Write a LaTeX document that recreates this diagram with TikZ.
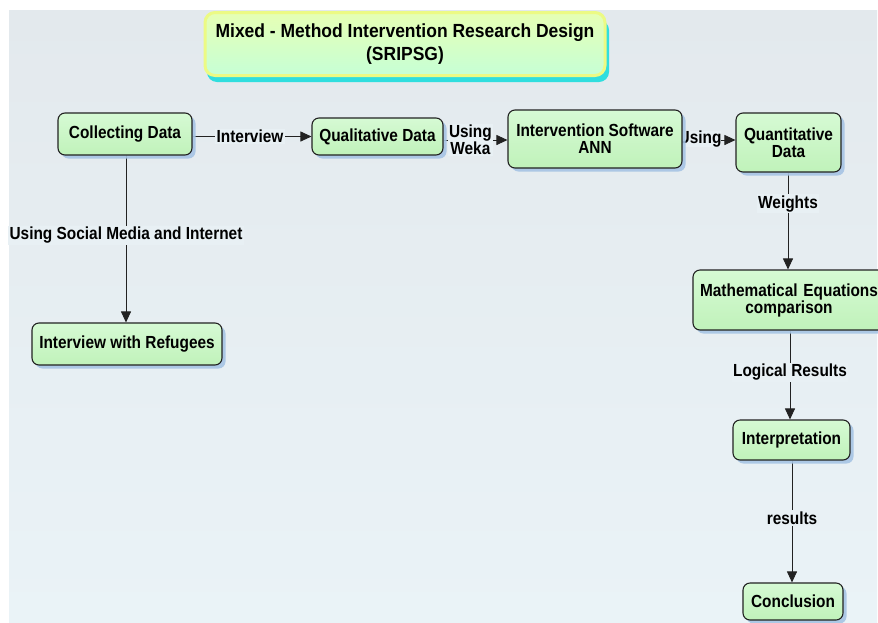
\documentclass[tikz,border=0pt]{standalone}
\usepackage{fontspec}
\setmainfont{Liberation Sans}
\newfontfamily\nodefont{Liberation Sans Bold}[FakeStretch=0.88]
\newfontfamily\titlefont{Liberation Sans Bold}[FakeStretch=0.92]
\usetikzlibrary{arrows.meta,shadows,positioning}
\definecolor{bgtop}{HTML}{E3E9ED}
\definecolor{bgbot}{HTML}{EAF3F7}
\definecolor{bgmid}{HTML}{E8F0F4}
\definecolor{boxtop}{HTML}{D6FAD4}
\definecolor{boxbot}{HTML}{C0F2BA}
\definecolor{shblue}{HTML}{A6C4E4}
\definecolor{ttop}{HTML}{E6FFB4}
\definecolor{tbot}{HTML}{C6FFD6}
\definecolor{tglow}{HTML}{ECFA84}
\definecolor{tcyan}{HTML}{30DEDE}
\definecolor{edge}{HTML}{222222}
\pgfdeclarelayer{back}
\pgfdeclarelayer{edges}
\pgfsetlayers{back,edges,main}
\tikzset{
  box/.style={draw=edge, line width=1.1pt, rounded corners=7pt,
    top color=boxtop, bottom color=boxbot, align=center,
    font=\nodefont\fontsize{17.5}{17}\selectfont, inner sep=2pt,
    drop shadow={fill=shblue, shadow xshift=3.5pt, shadow yshift=-3.5pt, opacity=0.9}},
  conn/.style={draw=edge, line width=0.9pt, -{Triangle[length=11pt,width=10pt]}},
  lbl/.style={fill=bgmid, inner sep=1.5pt, align=center,
    font=\nodefont\fontsize{17.5}{17}\selectfont},
}
\begin{document}
\begin{tikzpicture}[x=1pt,y=-1pt]
\useasboundingbox (0,0) rectangle (878,622);
\begin{pgfonlayer}{back}
\fill[white] (0,0) rectangle (878,622);
\shade[top color=bgtop, bottom color=bgbot] (9,10) rectangle (877,622);
\end{pgfonlayer}

% title
\fill[tcyan, rounded corners=10pt] (207,20) rectangle (609,82);
\node[draw=tglow, line width=3pt, rounded corners=10pt, top color=ttop, bottom color=tbot,
  minimum width=400pt, minimum height=63pt, align=center,
  font=\titlefont\fontsize{19}{23}\selectfont] (title) at (405,44)
  {Mixed - Method Intervention Research Design\\(SRIPSG)};

% nodes
\node[box, minimum width=134pt, minimum height=42pt] (coll) at (125,134) {Collecting Data};
\node[box, minimum width=131pt, minimum height=37pt] (qual) at (377.5,136.5) {Qualitative Data};
\node[box, minimum width=190pt, minimum height=42pt] (refu) at (127,344) {Interview with Refugees};
\node[box, minimum width=174pt, minimum height=58pt] (ann) at (595,139) {Intervention Software\\ANN};
\node[box, minimum width=105pt, minimum height=59pt] (quant) at (788.5,142.5) {Quantitative\\Data};
\node[box, minimum width=192pt, minimum height=60pt, text width=186pt] (math) at (789,300) {Mathematical Equations\\comparison};
\node[box, minimum width=117pt, minimum height=40pt] (interp) at (791.5,440) {Interpretation};
\node[box, minimum width=100pt, minimum height=37pt] (concl) at (793,601.5) {Conclusion};

\begin{pgfonlayer}{edges}
\draw[conn] (coll.east |- qual.west) -- node[lbl, xshift=-2pt]{Interview} (qual.west);
\draw[conn] (qual.east |- 0,140) -- node[lbl, pos=0.42]{Using\\Weka} (ann.west |- 0,140);
\draw[conn] (ann.east |- 0,140) -- (quant.west |- 0,140);
\node[lbl, anchor=west, inner sep=0pt] (usg) at (678.5,139) {Using};
\draw[conn] (126,155) -- node[lbl, pos=0.48]{Using Social Media and Internet} (refu.north -| 126,0);
\draw[conn] (quant.south -| 788,0) -- node[lbl, pos=0.32]{Weights} (math.north -| 788,0);
\draw[conn] (math.south -| 790,0) -- node[lbl, pos=0.47]{Logical Results} (interp.north -| 790,0);
\draw[conn] (interp.south -| 792,0) -- node[lbl, pos=0.47]{results} (concl.north -| 792,0);
\end{pgfonlayer}
\end{tikzpicture}
\end{document}
